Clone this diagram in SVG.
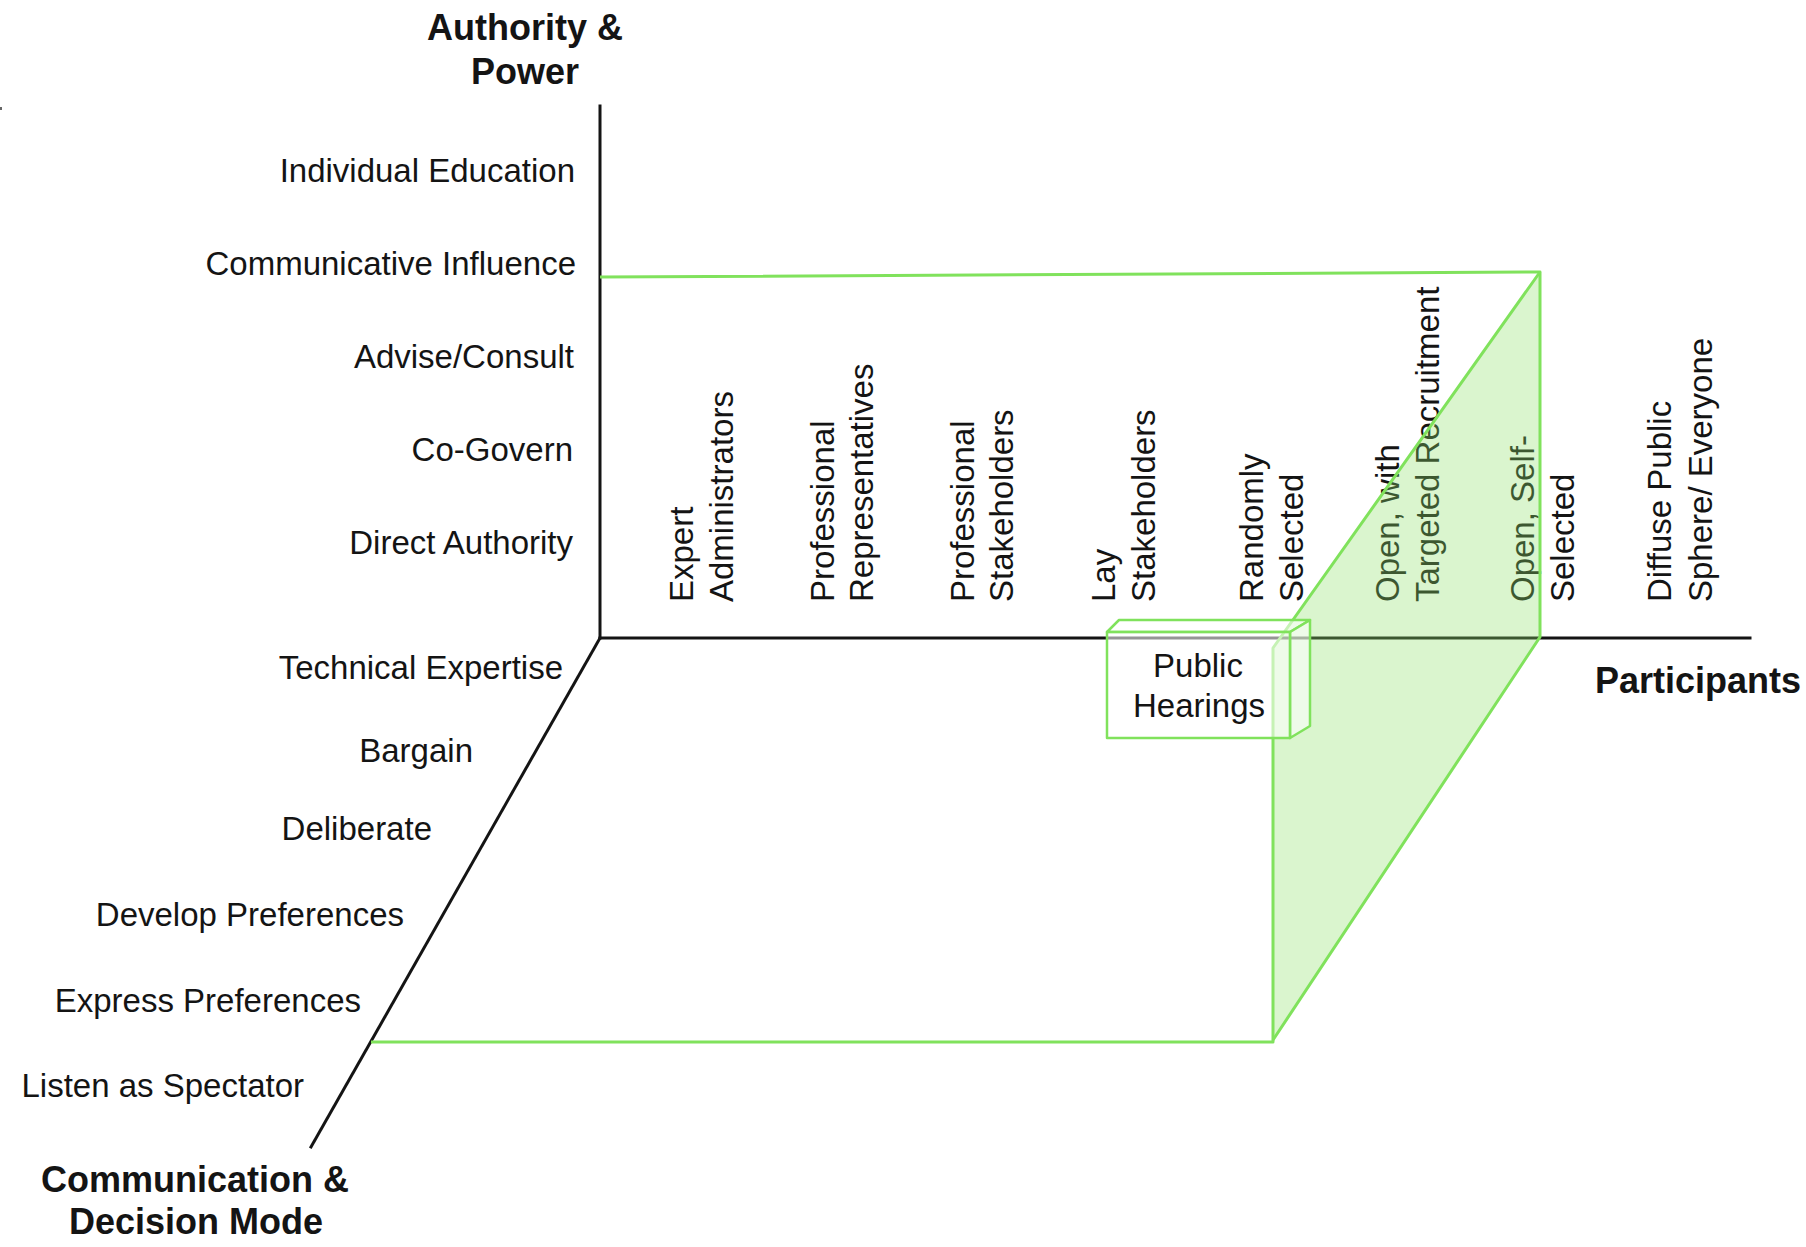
<svg xmlns="http://www.w3.org/2000/svg" width="1806" height="1247" viewBox="0 0 1806 1247">
<style>
text{font-family:"Liberation Sans",Arial,Helvetica,sans-serif;fill:#141414;font-size:33px}
.b{font-weight:bold;font-size:36px}
.e{text-anchor:end}
.m{text-anchor:middle}
.axis{stroke:#141414;stroke-width:3;fill:none;stroke-linecap:square}
.g{stroke:#80e25c;stroke-width:3;fill:none;stroke-linejoin:round}
.shade{fill:#8ee06a;fill-opacity:0.33;stroke:none}
.box{fill:#ffffff;fill-opacity:0.55;stroke:#80e25c;stroke-width:2.5;stroke-linejoin:round}
</style>
<rect x="0" y="0" width="1806" height="1247" fill="#ffffff"/>
<rect x="0" y="107" width="2" height="3" fill="#666"/>

<g id="connectors">
<line class="axis" x1="600" y1="106" x2="600" y2="638"/>
<line class="axis" x1="600" y1="638" x2="1750" y2="638"/>
<line class="axis" x1="600" y1="638" x2="311" y2="1147"/>
</g>

<g id="axis-authority">
<text class="b m" x="525" y="40">Authority &amp;</text>
<text class="b m" x="525" y="84">Power</text>
<text class="e" x="575" y="182">Individual Education</text>
<text class="e" x="576" y="275">Communicative Influence</text>
<text class="e" x="574" y="368">Advise/Consult</text>
<text class="e" x="573" y="461">Co-Govern</text>
<text class="e" x="573" y="554">Direct Authority</text>
</g>

<g id="axis-communication">
<text class="e" x="563" y="679">Technical Expertise</text>
<text class="e" x="473" y="762">Bargain</text>
<text class="e" x="432" y="840">Deliberate</text>
<text class="e" x="404" y="926">Develop Preferences</text>
<text class="e" x="361" y="1012">Express Preferences</text>
<text class="e" x="304" y="1097">Listen as Spectator</text>
<text class="b m" x="195" y="1192">Communication &amp;</text>
<text class="b m" x="196" y="1234">Decision Mode</text>
</g>

<g id="axis-participants">
<text class="b" x="1595" y="693">Participants</text>
<g id="p-expert"><text transform="translate(693,602) rotate(-90)">Expert</text><text transform="translate(733,602) rotate(-90)">Administrators</text></g>
<g id="p-prof-rep"><text transform="translate(834,602) rotate(-90)">Professional</text><text transform="translate(873,602) rotate(-90)">Representatives</text></g>
<g id="p-prof-stake"><text transform="translate(974,602) rotate(-90)">Professional</text><text transform="translate(1013,602) rotate(-90)">Stakeholders</text></g>
<g id="p-lay"><text transform="translate(1115,602) rotate(-90)">Lay</text><text transform="translate(1155,602) rotate(-90)">Stakeholders</text></g>
<g id="p-random"><text transform="translate(1263,602) rotate(-90)">Randomly</text><text transform="translate(1303,602) rotate(-90)">Selected</text></g>
<g id="p-open-targeted"><text transform="translate(1399,602) rotate(-90)">Open, with</text><text transform="translate(1439,602) rotate(-90)">Targeted Recruitment</text></g>
<g id="p-open-self"><text transform="translate(1534,602) rotate(-90)">Open, Self-</text><text transform="translate(1574,602) rotate(-90)">Selected</text></g>
<g id="p-diffuse"><text transform="translate(1671,602) rotate(-90)">Diffuse Public</text><text transform="translate(1712,602) rotate(-90)">Sphere/ Everyone</text></g>
</g>

<g id="range-cube">
<polygon class="shade" points="1273,648 1540,272 1540,637 1273,1040"/>
<polyline class="g" points="600,277 1540,272 1540,637 1273,1040"/>
<polyline class="g" points="371,1042 1273,1042 1273,648 1540,272"/>
</g>

<g id="public-hearings">
<polygon class="box" points="1107,632 1119,620 1310,620 1290,632"/>
<polygon class="box" points="1290,632 1310,620 1310,726 1290,738"/>
<rect class="box" x="1107" y="632" width="183" height="106"/>
<text class="m" x="1198" y="677">Public</text>
<text class="m" x="1199" y="717">Hearings</text>
</g>
</svg>
